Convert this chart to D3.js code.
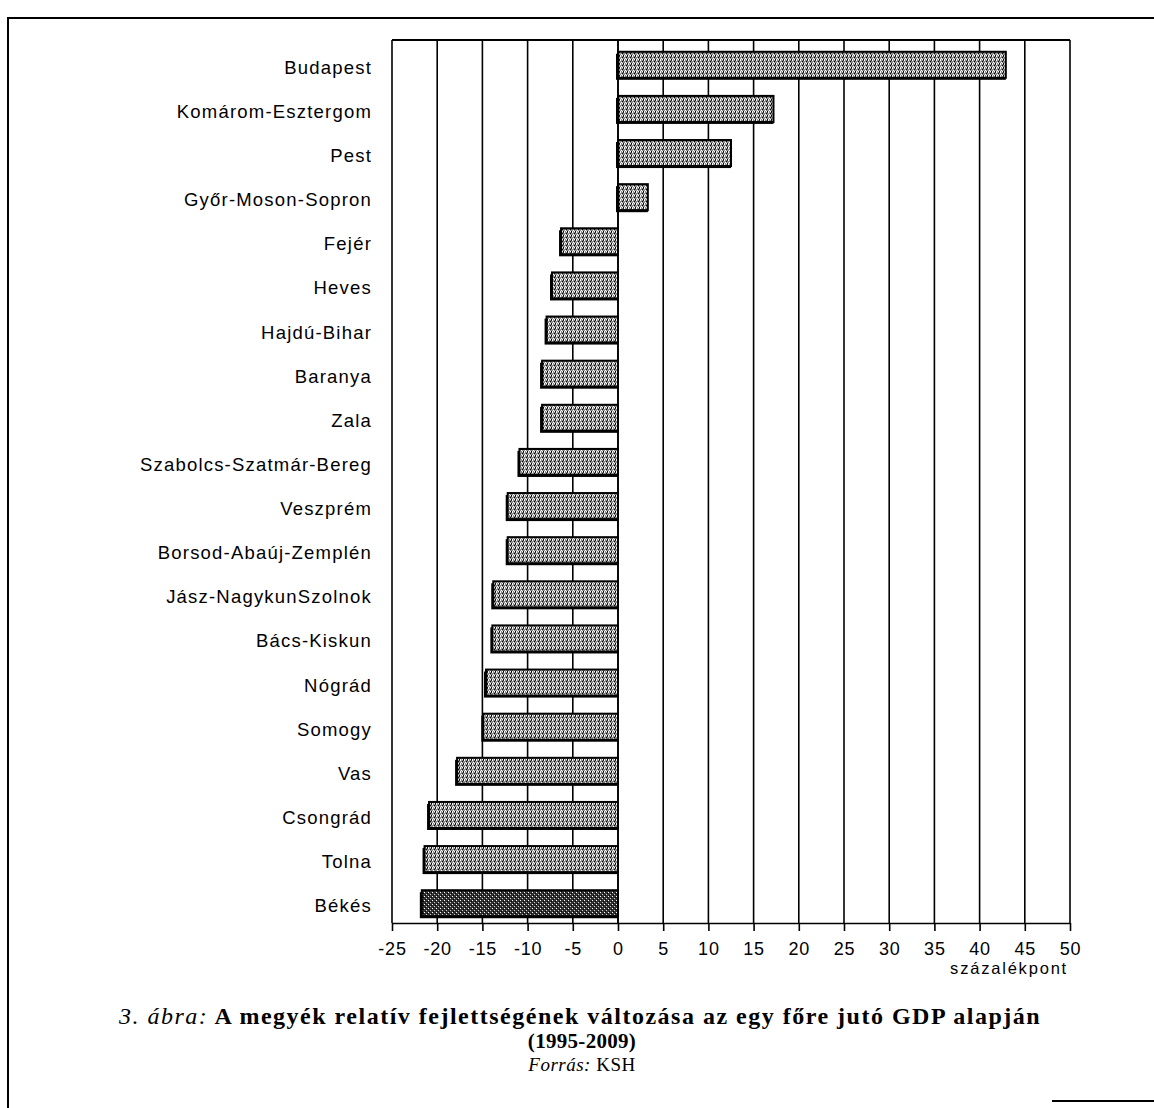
<!DOCTYPE html>
<html><head><meta charset="utf-8">
<script src="https://cdn.jsdelivr.net/npm/d3@7"></script>
<style>
html,body{margin:0;padding:0;background:#fff;}
svg{display:block;}
</style></head>
<body>
<script>
const categories = ["Budapest","Komárom-Esztergom","Pest","Győr-Moson-Sopron","Fejér","Heves","Hajdú-Bihar","Baranya","Zala","Szabolcs-Szatmár-Bereg","Veszprém","Borsod-Abaúj-Zemplén","Jász-NagykunSzolnok","Bács-Kiskun","Nógrád","Somogy","Vas","Csongrád","Tolna","Békés"];
const values = [42.9,17.2,12.5,3.3,-6.3,-7.3,-7.9,-8.4,-8.4,-10.9,-12.2,-12.2,-13.8,-13.9,-14.6,-14.9,-17.8,-20.9,-21.4,-21.7];
const tickValues = [-25,-20,-15,-10,-5,0,5,10,15,20,25,30,35,40,45,50];
const axisTitle = "százalékpont";
const captionLabel = "3. ábra:";
const captionTitle = " A megyék relatív fejlettségének változása az egy főre jutó GDP alapján";
const captionYears = "(1995-2009)";
const sourceLabel = "Forrás:";
const sourceText = " KSH";

const W = 1154, H = 1108;
const svg = d3.select("body").append("svg").attr("width", W).attr("height", H);

// texture patterns
const defs = svg.append("defs");
function makePattern(id, bg, dots) {
  const p = defs.append("pattern").attr("id", id).attr("patternUnits","userSpaceOnUse")
    .attr("width", 4).attr("height", 4);
  p.append("rect").attr("width",4).attr("height",4).attr("fill", bg);
  dots.forEach(d => p.append("rect").attr("x", d[0]).attr("y", d[1]).attr("width",1).attr("height",1).attr("fill", d[2]));
}
makePattern("tex", "#8c8c8c", [[0,0,"#fff"],[2,1,"#000"],[1,2,"#fff"],[3,3,"#000"],[3,0,"#222"],[0,3,"#eee"],[2,3,"#fff"]]);
makePattern("texDark", "#333", [[0,0,"#fff"],[2,2,"#ccc"],[3,1,"#000"],[1,3,"#000"]]);

// outer frame (scanned page border)
svg.append("path").attr("d", `M8,1108 V18 H1154`).attr("fill","none").attr("stroke","#000").attr("stroke-width",2);
svg.append("line").attr("x1",1052).attr("x2",1154).attr("y1",1101).attr("y2",1101).attr("stroke","#000").attr("stroke-width",2);

const x = d3.scaleLinear().domain([-25, 50]).range([392, 1070]);
const y = d3.scaleBand().domain(categories).range([40, 923]).paddingInner(0.41).paddingOuter(0.21).align(0.635);

const plotTop = 40, plotBottom = 923;

// gridlines
svg.append("g").selectAll("line").data(tickValues).join("line")
  .attr("x1", d => x(d)).attr("x2", d => x(d))
  .attr("y1", plotTop).attr("y2", plotBottom)
  .attr("stroke", "#000").attr("stroke-width", 1.6);

// top border
svg.append("line").attr("x1", x(-25)).attr("x2", x(50)).attr("y1", plotTop).attr("y2", plotTop)
  .attr("stroke","#000").attr("stroke-width",2);

// bars
const bars = svg.append("g");
bars.selectAll("rect.shadow").data(values).join("rect").attr("class","shadow")
  .attr("x", d => Math.min(x(0), x(d)) - 2)
  .attr("y", (d,i) => y(categories[i]) + 2)
  .attr("width", d => Math.abs(x(d) - x(0)) + 2)
  .attr("height", y.bandwidth())
  .attr("fill", "#000");
bars.selectAll("rect.bar").data(values).join("rect").attr("class","bar")
  .attr("x", d => Math.min(x(0), x(d)))
  .attr("y", (d,i) => y(categories[i]))
  .attr("width", d => Math.abs(x(d) - x(0)))
  .attr("height", y.bandwidth())
  .attr("fill", (d,i) => i === categories.length - 1 ? "url(#texDark)" : "url(#tex)")
  .attr("stroke", "#000").attr("stroke-width", 2);

// zero line
svg.append("line").attr("x1", x(0)).attr("x2", x(0)).attr("y1", plotTop).attr("y2", plotBottom)
  .attr("stroke","#000").attr("stroke-width",1.6);

// x axis
const xAxis = d3.axisBottom(x).tickValues(tickValues).tickSize(8).tickSizeOuter(0).tickFormat(d => d);
const gx = svg.append("g").attr("transform", `translate(0,${plotBottom})`).call(xAxis);
gx.select(".domain").attr("stroke","#000").attr("stroke-width",1.6);
gx.selectAll(".tick line").attr("stroke","#000").attr("stroke-width",1.6);
gx.selectAll(".tick text").attr("font-family","Liberation Sans, Arial, sans-serif").attr("font-size",18)
  .attr("fill","#000").attr("y", 32).attr("dy", 0).attr("letter-spacing","0.8px");

svg.append("text").attr("x", 1068).attr("y", 974).attr("text-anchor","end")
  .attr("font-family","Liberation Sans, Arial, sans-serif").attr("font-size",16.5).attr("letter-spacing","1.8px")
  .text(axisTitle);

// category labels
svg.append("g").selectAll("text").data(categories).join("text")
  .attr("x", 372).attr("y", d => y(d) + y.bandwidth()/2 + 9)
  .attr("text-anchor","end")
  .attr("font-family","Liberation Sans, Arial, sans-serif").attr("font-size",18.5).attr("letter-spacing","1.2px")
  .text(d => d);

// caption
const cap = svg.append("text").attr("x", 580).attr("y", 1024).attr("text-anchor","middle")
  .attr("font-family","Liberation Serif, Times New Roman, serif").attr("font-size",24).attr("letter-spacing","1.5px");
cap.append("tspan").attr("font-style","italic").text(captionLabel);
cap.append("tspan").attr("font-weight","bold").text(captionTitle);

svg.append("text").attr("x", 582).attr("y", 1048).attr("text-anchor","middle")
  .attr("font-family","Liberation Serif, Times New Roman, serif").attr("font-size",21).attr("font-weight","bold").attr("letter-spacing","0.3px")
  .text(captionYears);

const src = svg.append("text").attr("x", 582).attr("y", 1071).attr("text-anchor","middle")
  .attr("font-family","Liberation Serif, Times New Roman, serif").attr("font-size",19).attr("letter-spacing","0.5px");
src.append("tspan").attr("font-style","italic").text(sourceLabel);
src.append("tspan").text(sourceText);
</script>
</body></html>
